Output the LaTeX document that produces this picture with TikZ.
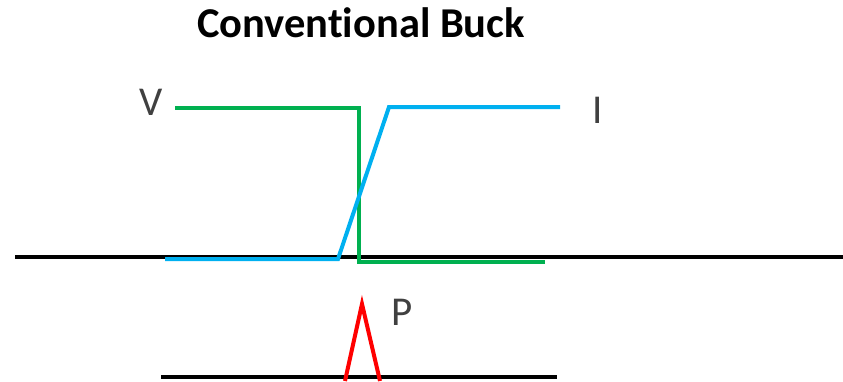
\documentclass[tikz,border=0pt]{standalone}
\usepackage{fontspec}
\setmainfont{Carlito}[Ligatures=NoCommon]
\definecolor{vgreen}{HTML}{00B050}
\definecolor{iblue}{HTML}{00B0F0}
\definecolor{pred}{HTML}{FF0000}
\definecolor{lblgray}{HTML}{404040}
\begin{document}
\begin{tikzpicture}[x=1pt,y=-1pt,
  wave/.style={line width=4pt,line join=miter},
  axisline/.style={line width=3.5pt,black},
  lbl/.style={inner sep=0pt,text=lblgray,font=\fontsize{41}{41}\selectfont},
  ttl/.style={inner sep=0pt,font=\bfseries\fontsize{42.5}{42.5}\selectfont}]
\useasboundingbox (0,0) rectangle (843,381);
\fill[white] (0,0) rectangle (843,381);
% title
\node[ttl,anchor=base] (title) at (361,37) {Conventional Buck};
% axes
\coordinate (a1) at (15,257);
\coordinate (a2) at (843,257);
\draw[axisline] (a1) -- (a2);
\coordinate (b1) at (161,377);
\coordinate (b2) at (557,377);
\draw[axisline] (b1) -- (b2);
% voltage
\draw[wave,vgreen] (175,108) -- (359,108) -- (359,262) -- (545,262);
% current
\draw[wave,iblue] (165,259) -- (338,259) -- (389,107) -- (560,107);
% power
\draw[wave,pred,line width=4pt] (345,381) -- (362,304) -- (380,381);
% labels
\node[lbl,anchor=base west] (V) at (139,115) {V};
\node[lbl,anchor=base] (I) at (598,123) {I};
\node[lbl,anchor=base west] (P) at (391,325) {P};
\end{tikzpicture}
\end{document}
